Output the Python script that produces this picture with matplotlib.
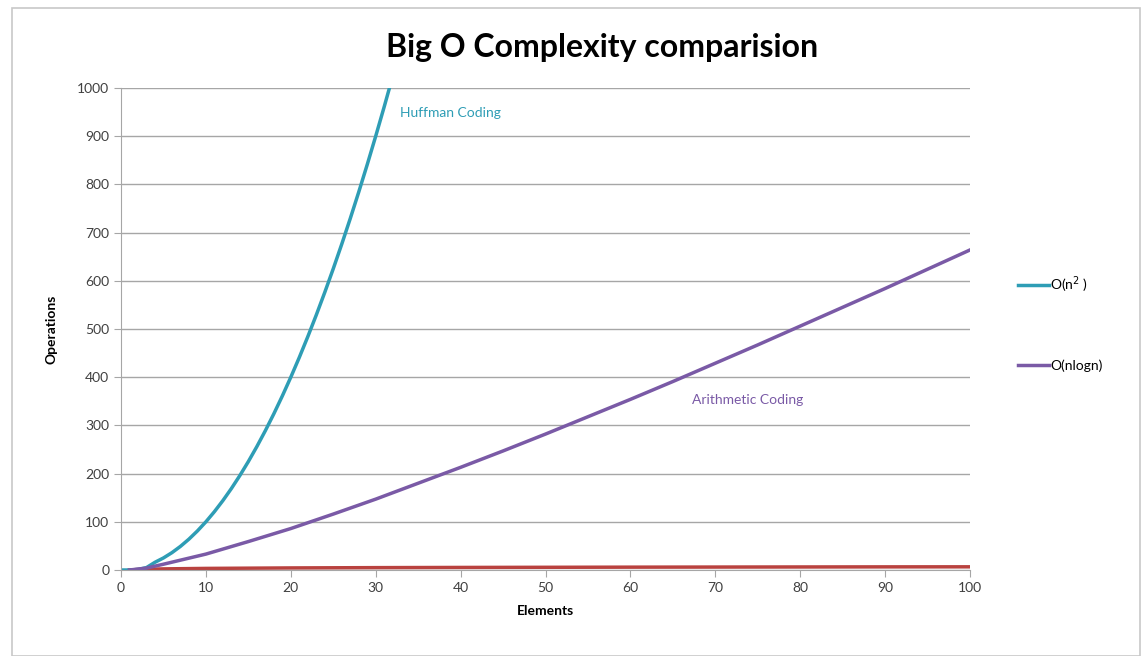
import numpy as np
import matplotlib.pyplot as plt
from matplotlib.patches import Rectangle

plt.rcParams['font.family'] = ['Lato', 'DejaVu Sans']

# O(n^2) - lecture du graphique
x_sq = list(range(0, 33))
y_sq = [0, 0, 1, 5, 16, 25, 36, 49, 64, 81, 100, 121, 144, 169, 196, 225, 256,
        289, 324, 361, 400, 441, 484, 529, 576, 625, 676, 729, 784, 841, 900,
        961, 1024]

# O(nlogn)
x_nlog = [1, 3, 5, 10, 15, 20, 25, 30, 35, 40, 45, 50, 55, 60, 65, 70, 75, 80,
          85, 90, 95, 100]
y_nlog = [0, 4, 12, 33, 59, 86, 116, 147, 180, 213, 247, 282, 318, 354, 391,
          429, 467, 506, 545, 584, 624, 664]

# O(logn) et O(1), presque a zero
x_log = [1, 2, 5, 10, 20, 30, 40, 50, 60, 70, 80, 90, 100]
y_log = [0, 1, 2.3, 3.3, 4.3, 4.9, 5.3, 5.6, 5.9, 6.1, 6.3, 6.5, 6.6]
x_one = [1, 10]
y_one = [1, 1]

teal = '#2e9db5'
purple = '#7a5aa6'
red = '#b9423f'
olive = '#9bb55a'
grid_c = '#a6a6a6'

fig = plt.figure(figsize=(11.46, 6.56), dpi=100)
fig.patches.append(Rectangle((12 / 1146, 0), 1128 / 1146, 1 - 8 / 656,
                             transform=fig.transFigure, fill=False,
                             edgecolor='#c8c8c8', linewidth=1.2))
ax = fig.add_axes([121 / 1146, 1 - 570 / 656, 849 / 1146, 482 / 656])

ax.plot(x_one, y_one, color=olive, lw=2.5)
ax.plot(x_log, y_log, color=red, lw=2.5)
l1, = ax.plot(x_sq, y_sq, color=teal, lw=2.5)
l2, = ax.plot(x_nlog, y_nlog, color=purple, lw=2.5)

ax.set_xlim(0, 100)
ax.set_ylim(0, 1000)
ax.set_xticks(np.arange(0, 101, 10))
ax.set_yticks(np.arange(0, 1001, 100))
ax.yaxis.grid(True, color=grid_c, lw=1)
ax.set_axisbelow(True)
for s in ['top', 'right']:
    ax.spines[s].set_visible(False)
for s in ['left', 'bottom']:
    ax.spines[s].set_color(grid_c)
ax.tick_params(axis='both', colors=grid_c, labelcolor='#404040',
               labelsize=10, length=5)

ax.set_xlabel('Elements', fontsize=10, fontweight='bold', labelpad=8)
ax.set_ylabel('Operations', fontsize=10, fontweight='bold', labelpad=14)
fig.text(0.525, 1 - 48 / 656, 'Big O Complexity comparision', ha='center',
         va='center', fontsize=23, fontweight='bold')

ax.text(32.9, 948, 'Huffman Coding', color=teal, fontsize=10, va='center')
ax.text(67.3, 353, 'Arithmetic Coding', color=purple, fontsize=10,
        va='center')

fig.legend([l1, l2], ['O(n$^{2}$ )', 'O(nlogn)'], loc='upper left',
           bbox_to_anchor=(1006 / 1146, 1 - 262 / 656), frameon=False,
           fontsize=10, labelspacing=4.6, handlelength=2.2, handletextpad=0.1)

fig.savefig('out.png', dpi=100)
